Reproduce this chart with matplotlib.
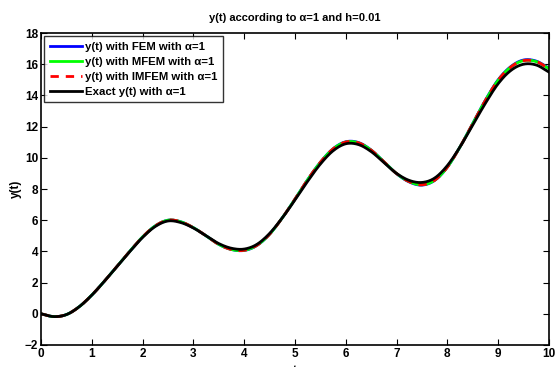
import matplotlib
matplotlib.use("Agg")
import matplotlib.pyplot as plt
import numpy as np

plt.rcParams['font.family'] = ['Liberation Sans', 'DejaVu Sans']
plt.rcParams['font.weight'] = 'bold'

t = [0.0, 0.25, 0.5, 0.75, 1.0, 1.25, 1.5, 1.75, 2.0, 2.25, 2.5, 2.75, 3.0, 3.25,
     3.5, 3.75, 4.0, 4.25, 4.5, 4.75, 5.0, 5.25, 5.5, 5.75, 6.0, 6.25, 6.5, 6.75,
     7.0, 7.25, 7.5, 7.75, 8.0, 8.25, 8.5, 8.75, 9.0, 9.25, 9.5, 9.75, 10.0]

# exact solution
y_exact = [0.0, -0.18, -0.05, 0.45, 1.2, 2.1, 3.05, 4.0, 4.9, 5.6, 5.95, 5.85, 5.5, 5.0,
           4.5, 4.2, 4.15, 4.45, 5.15, 6.15, 7.3, 8.5, 9.6, 10.45, 10.9, 10.85, 10.4, 9.7,
           9.0, 8.55, 8.42, 8.7, 9.5, 10.7, 12.1, 13.5, 14.75, 15.6, 16.0, 15.95, 15.5]

# numerical solutions (nearly identical to each other)
y_fem = [0.0, -0.18, -0.05, 0.45, 1.2, 2.1, 3.06, 4.02, 4.93, 5.64, 6.0, 5.9, 5.52, 5.0,
         4.45, 4.12, 4.06, 4.38, 5.1, 6.15, 7.35, 8.6, 9.72, 10.58, 11.03, 10.98, 10.5, 9.75,
         8.98, 8.45, 8.25, 8.55, 9.4, 10.7, 12.2, 13.7, 15.0, 15.85, 16.27, 16.2, 15.75]
y_mfem = [0.0, -0.18, -0.05, 0.45, 1.2, 2.1, 3.06, 4.02, 4.93, 5.64, 6.0, 5.9, 5.52, 5.0,
          4.45, 4.12, 4.07, 4.39, 5.1, 6.15, 7.35, 8.6, 9.71, 10.57, 11.01, 10.96, 10.49, 9.75,
          8.99, 8.47, 8.27, 8.56, 9.4, 10.7, 12.19, 13.68, 14.97, 15.82, 16.23, 16.17, 15.72]
y_imfem = [0.0, -0.18, -0.05, 0.45, 1.2, 2.1, 3.06, 4.02, 4.93, 5.64, 6.0, 5.9, 5.52, 5.0,
           4.45, 4.12, 4.07, 4.39, 5.1, 6.15, 7.35, 8.6, 9.71, 10.57, 11.01, 10.96, 10.49, 9.75,
           8.99, 8.47, 8.27, 8.56, 9.4, 10.7, 12.19, 13.68, 14.97, 15.82, 16.23, 16.17, 15.72]

# smooth the read-off points for drawing (cubic Hermite)
tt = np.linspace(0, 10, 600)
def smooth(v):
    x = np.asarray(t); y = np.asarray(v)
    out = np.empty_like(tt)
    m = np.gradient(y, x)
    for k, xv in enumerate(tt):
        i = min(np.searchsorted(x, xv, side='right') - 1, len(x) - 2)
        h = x[i + 1] - x[i]
        s = (xv - x[i]) / h
        h00 = 2*s**3 - 3*s**2 + 1
        h10 = s**3 - 2*s**2 + s
        h01 = -2*s**3 + 3*s**2
        h11 = s**3 - s**2
        out[k] = h00*y[i] + h10*h*m[i] + h01*y[i+1] + h11*h*m[i+1]
    return out

fig = plt.figure(figsize=(5.55, 3.67), dpi=100)
ax = fig.add_axes([0.074, 0.060, 0.915, 0.850])

ax.plot(tt, smooth(y_fem), color='blue', lw=2, label='y(t) with FEM with α=1')
ax.plot(tt, smooth(y_mfem), color='#00ff00', lw=2, label='y(t) with MFEM with α=1')
ax.plot(tt, smooth(y_imfem), color='red', lw=2, ls=(0, (3, 2.5)), label='y(t) with IMFEM with α=1')
ax.plot(tt, smooth(y_exact), color='black', lw=2, label='Exact y(t) with α=1')

ax.set_xlim(0, 10)
ax.set_ylim(-2, 18)
ax.set_xticks(range(0, 11))
ax.set_yticks(range(-2, 19, 2))
ax.tick_params(direction='in', top=True, right=True, length=4, labelsize=8.5, pad=2)
for lab in ax.get_xticklabels() + ax.get_yticklabels():
    lab.set_fontweight('bold')
for s in ax.spines.values():
    s.set_linewidth(1.2)

ax.set_title('y(t) according to α=1 and h=0.01', fontsize=8, fontweight='bold', pad=9)
ax.set_ylabel('y(t)', fontsize=8.5, fontweight='bold', labelpad=2)
ax.set_xlabel('t', fontsize=8.5, fontweight='bold', labelpad=4)

leg = ax.legend(loc='upper left', fontsize=8.2, frameon=True, fancybox=False,
                edgecolor='black', borderpad=0.45, labelspacing=0.45,
                handlelength=2.8, handletextpad=0.3, borderaxespad=0.3)
leg.get_frame().set_linewidth(1.0)
for txt in leg.get_texts():
    txt.set_fontweight('bold')

fig.savefig('out.png', dpi=100)
